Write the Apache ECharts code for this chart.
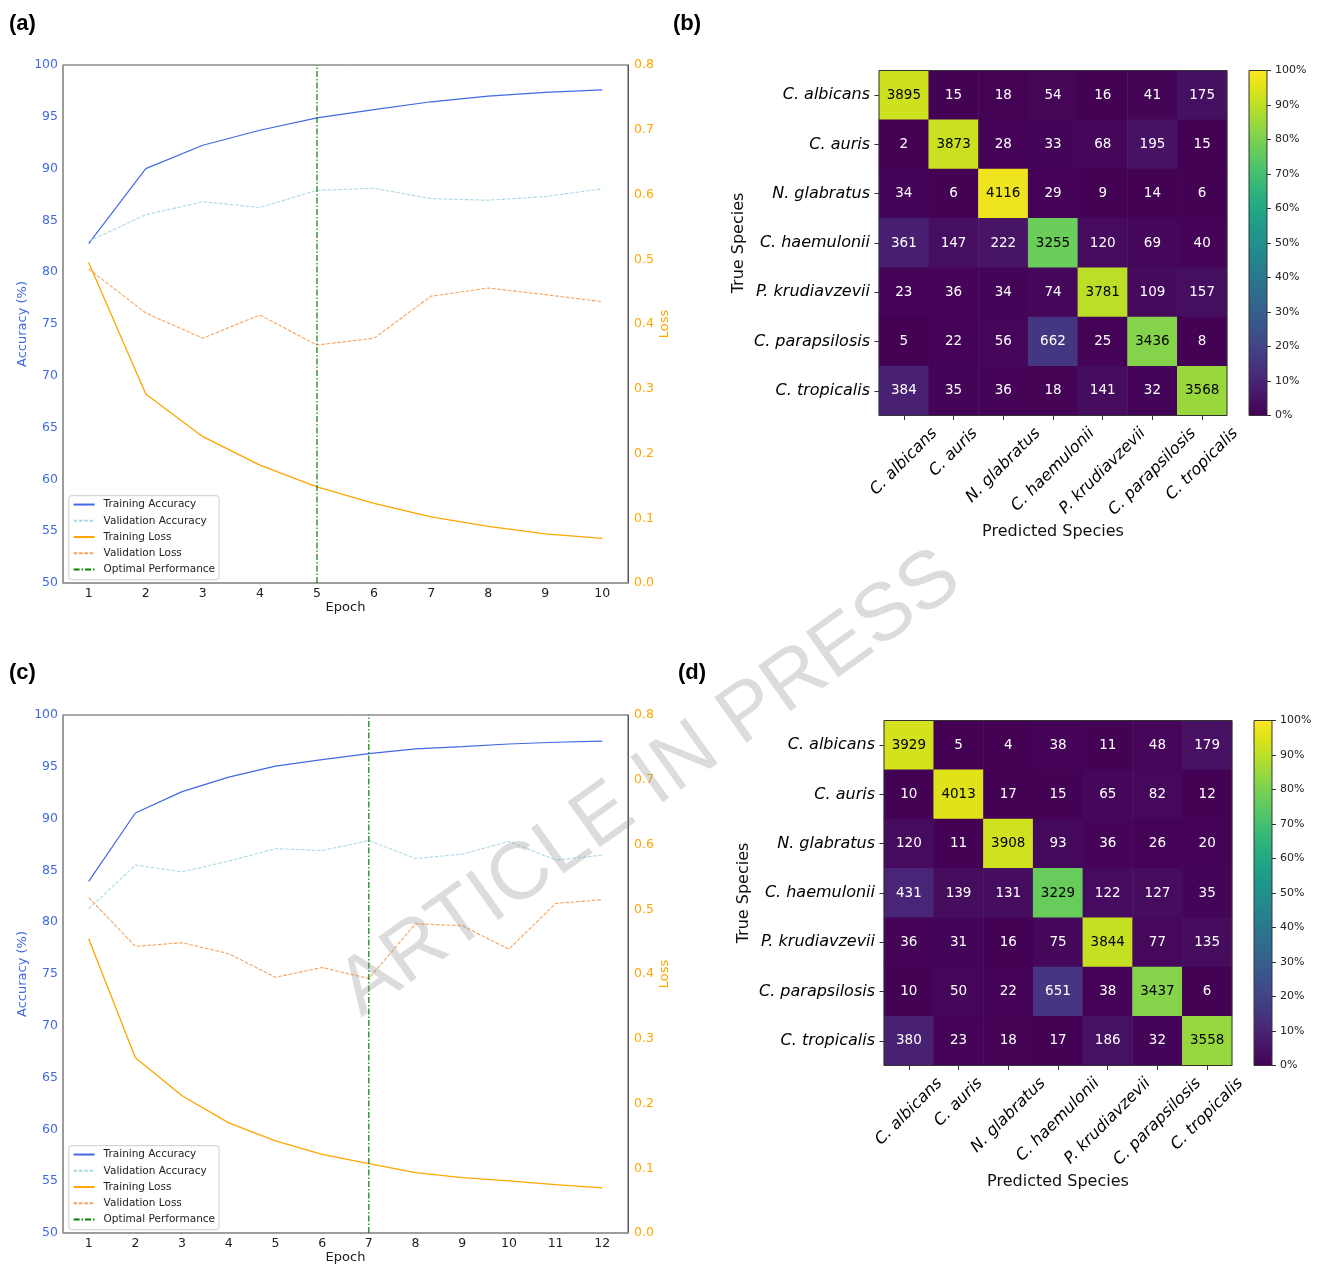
<!DOCTYPE html>
<html><head><meta charset="utf-8">
<script src="https://cdn.jsdelivr.net/npm/echarts@6/dist/echarts.min.js"></script>
<style>html,body{margin:0;padding:0;background:#fff}#c{width:1317px;height:1266px}</style>
</head><body><div id="c"></div>
<script>
// ---------------- data ----------------
const epochsA = [1,2,3,4,5,6,7,8,9,10];
const trainAccA = [82.75, 90.0, 92.25, 93.7, 94.9, 95.7, 96.45, 97.0, 97.35, 97.6];
const valAccA   = [83.0, 85.55, 86.8, 86.25, 87.9, 88.1, 87.1, 86.95, 87.3, 88.05];
const trainLossA = [0.495, 0.292, 0.226, 0.182, 0.1485, 0.123, 0.102, 0.0876, 0.0758, 0.069];
const valLossA   = [0.485, 0.417, 0.378, 0.414, 0.3675, 0.378, 0.443, 0.4556, 0.4453, 0.4345];
const optimalA = 5;

const epochsC = [1,2,3,4,5,6,7,8,9,10,11,12];
const trainAccC = [83.94, 90.54, 92.6, 94.0, 95.06, 95.7, 96.28, 96.73, 96.95, 97.2, 97.37, 97.47];
const valAccC   = [81.28, 85.51, 84.87, 85.9, 87.1, 86.92, 87.88, 86.15, 86.57, 87.8, 86.0, 86.47];
const trainLossC = [0.4545, 0.2706, 0.2119, 0.170, 0.1423, 0.1216, 0.1072, 0.0933, 0.0856, 0.0804, 0.0747, 0.0696];
const valLossC   = [0.518, 0.4427, 0.4483, 0.4314, 0.395, 0.41, 0.393, 0.4776, 0.4746, 0.4383, 0.509, 0.5147];
const optimalC = 7;

const accRange = [50, 100];
const lossRange = [0, 0.8];

const species = ['C. albicans','C. auris','N. glabratus','C. haemulonii','P. krudiavzevii','C. parapsilosis','C. tropicalis'];
const countsB = [
  [3895, 15, 18, 54, 16, 41, 175],
  [2, 3873, 28, 33, 68, 195, 15],
  [34, 6, 4116, 29, 9, 14, 6],
  [361, 147, 222, 3255, 120, 69, 40],
  [23, 36, 34, 74, 3781, 109, 157],
  [5, 22, 56, 662, 25, 3436, 8],
  [384, 35, 36, 18, 141, 32, 3568]
];
const countsD = [
  [3929, 5, 4, 38, 11, 48, 179],
  [10, 4013, 17, 15, 65, 82, 12],
  [120, 11, 3908, 93, 36, 26, 20],
  [431, 139, 131, 3229, 122, 127, 35],
  [36, 31, 16, 75, 3844, 77, 135],
  [10, 50, 22, 651, 38, 3437, 6],
  [380, 23, 18, 17, 186, 32, 3558]
];
const colorbarTicks = [0,10,20,30,40,50,60,70,80,90,100];
const viridis = ['#440154','#471365','#482475','#463480','#414487','#3b528b','#355f8d','#2f6c8e','#2a788e','#25848e','#21918c','#1e9c89','#22a884','#2fb47c','#44bf70','#5ec962','#7ad151','#9bd93c','#bddf26','#dfe318','#fde725'];

// ---------------- helpers ----------------
const FF = 'DejaVu Sans';
const BLUE = '#4169E1', LBLUE = '#ADD8E6', ORANGE = '#FFA500', SANDY = '#F4A460', GREEN = '#008000';
const DASHDOT = [6, 2, 1.5, 2];
const pairs = (xs, ys) => xs.map((x, i) => [x, ys[i]]);

function cmData(counts) {
  const out = [];
  counts.forEach((row, i) => {
    const tot = row.reduce((a, b) => a + b, 0);
    row.forEach((c, j) => {
      const pct = c / tot * 100;
      out.push({ value: [j, i, pct, c], label: { color: pct > 50 ? '#000' : '#fff' } });
    });
  });
  return out;
}

// measure label widths to mimic centered rotated labels
const mctx = document.createElement('canvas').getContext('2d');
mctx.font = 'italic 16px "DejaVu Sans"';
const lw = species.map(s => mctx.measureText(s).width);
const Lmin = Math.min(...lw);
const richX = {};
lw.forEach((w, i) => {
  const p = (w - Lmin) / 2;
  richX['l' + i] = { fontStyle: 'italic', fontSize: 16, fontFamily: FF, color: '#000', padding: [p, p, 0, 0] };
});
const baseMargin = 9 + (Lmin + 18) / (2 * Math.SQRT2);

function lineSeries(name, xs, ys, xi, yi, color, type, width) {
  return { name, type: 'line', xAxisIndex: xi, yAxisIndex: yi, data: pairs(xs, ys), showSymbol: false, symbol: 'none',
    lineStyle: { color, width, type }, itemStyle: { color }, silent: true, z: 3 };
}
function optimalSeries(xi, yi, x) {
  return { name: 'Optimal Performance', type: 'line', xAxisIndex: xi, yAxisIndex: yi,
    data: [[x, accRange[0]], [x, accRange[1]]], symbol: 'none', showSymbol: false, silent: true, z: 4,
    color: GREEN, lineStyle: { color: GREEN, width: 1.2, type: DASHDOT }, itemStyle: { color: GREEN } };
}
function lineGridAxes(gridIndex, min, max, ticks) {
  const x = { type: 'value', gridIndex, min, max, z: 1,
    axisLine: { show: true, lineStyle: { color: '#999', width: 1.5 } },
    axisTick: { show: false }, splitLine: { show: false },
    axisLabel: { customValues: ticks, color: '#222', fontSize: 12.5, fontFamily: FF, margin: 4 },
    name: 'Epoch', nameLocation: 'middle', nameGap: 18.5, nameTextStyle: { color: '#222', fontSize: 13, fontFamily: FF } };
  const yl = { type: 'value', gridIndex, min: accRange[0], max: accRange[1], interval: 5, position: 'left', z: 1,
    axisLine: { show: true, lineStyle: { color: '#999', width: 1.5 } }, axisTick: { show: false }, splitLine: { show: false },
    axisLabel: { color: BLUE, fontSize: 12.5, fontFamily: FF, margin: 5 },
    name: 'Accuracy (%)', nameLocation: 'middle', nameGap: 33.5, nameRotate: 90,
    nameTextStyle: { color: BLUE, fontSize: 13, fontFamily: FF } };
  const yr = { type: 'value', gridIndex, min: lossRange[0], max: lossRange[1], interval: 0.1, position: 'right', z: 1,
    axisLine: { show: true, lineStyle: { color: '#555', width: 1 } }, axisTick: { show: false }, splitLine: { show: false },
    axisLabel: { color: ORANGE, fontSize: 12.5, fontFamily: FF, margin: 6, formatter: v => v.toFixed(1) },
    name: 'Loss', nameLocation: 'middle', nameGap: 27.5, nameRotate: 90,
    nameTextStyle: { color: ORANGE, fontSize: 13, fontFamily: FF } };
  return [x, yl, yr];
}
function legendAt(top) {
  return { orient: 'vertical', left: 68.8, top, padding: [3.35, 4, 4.75, 3.8], itemWidth: 21, itemHeight: 10, itemGap: 5.25,
    backgroundColor: 'rgba(255,255,255,0.8)', borderColor: '#ccc', borderWidth: 1, borderRadius: 3,
    itemStyle: { opacity: 0 },
    selectedMode: false, textStyle: { fontSize: 10.5, fontFamily: FF, color: '#222', padding: [0, 0, 0, 4] },
    data: ['Training Accuracy', 'Validation Accuracy', 'Training Loss', 'Validation Loss', 'Optimal Performance'] };
}
function hmAxes(gridIndex) {
  const x = { type: 'category', gridIndex, data: species, position: 'bottom',
    axisLine: { show: false }, axisTick: { show: true, alignWithLabel: true, length: 4.5, lineStyle: { color: '#333' } },
    splitLine: { show: false },
    axisLabel: { interval: 0, rotate: 45, align: 'center', verticalAlign: 'middle', margin: baseMargin,
      formatter: (v, i) => '{l' + i + '|' + v + '}', rich: richX },
    name: 'Predicted Species', nameLocation: 'middle', nameGap: 108,
    nameTextStyle: { color: '#111', fontSize: 16, fontFamily: FF, verticalAlign: 'top' } };
  const y = { type: 'category', gridIndex, data: species, inverse: true, position: 'left',
    axisLine: { show: false }, axisTick: { show: true, alignWithLabel: true, length: 4.5, lineStyle: { color: '#333' } },
    splitLine: { show: false },
    axisLabel: { interval: 0, margin: 9, fontStyle: 'italic', fontSize: 16, fontFamily: FF, color: '#000' },
    name: 'True Species', nameLocation: 'middle', nameGap: 132, nameRotate: 90,
    nameTextStyle: { color: '#111', fontSize: 16, fontFamily: FF } };
  return [x, y];
}
function cbAxes(gridIndex) {
  const x = { type: 'category', gridIndex, data: ['cb'], show: false };
  const y = { type: 'value', gridIndex, min: 0, max: 100, interval: 10, position: 'right',
    axisLine: { show: false }, axisTick: { show: true, length: 4, lineStyle: { color: '#333' } }, splitLine: { show: false },
    axisLabel: { customValues: colorbarTicks, formatter: v => v + '%', color: '#222', fontSize: 11, fontFamily: FF, margin: 8 } };
  return [x, y];
}
const cbGradient = { type: 'linear', x: 0, y: 1, x2: 0, y2: 0,
  colorStops: viridis.map((c, i) => ({ offset: i / (viridis.length - 1), color: c })) };

// ---------------- axes ----------------
const [xA, ylA, yrA] = lineGridAxes(0, 0.55, 10.45, epochsA);
const [xC, ylC, yrC] = lineGridAxes(1, 0.45, 12.55, epochsC);
const [xB, yB] = hmAxes(2);
const [xD, yD] = hmAxes(3);
const [xcbB, ycbB] = cbAxes(4);
const [xcbD, ycbD] = cbAxes(5);

const option = {
  animation: false,
  backgroundColor: '#fff',
  textStyle: { fontFamily: FF },
  grid: [
    { left: 63, top: 65, width: 565, height: 518, show: true, borderColor: '#555', borderWidth: 1, backgroundColor: 'transparent' },
    { left: 63, top: 715, width: 565, height: 518, show: true, borderColor: '#555', borderWidth: 1, backgroundColor: 'transparent' },
    { left: 879, top: 70.5, width: 348, height: 345, show: true, z: 5, borderColor: '#333', borderWidth: 1, backgroundColor: 'transparent' },
    { left: 884, top: 720.5, width: 348, height: 345, show: true, z: 5, borderColor: '#333', borderWidth: 1, backgroundColor: 'transparent' },
    { left: 1249, top: 70.5, width: 18, height: 345, show: true, z: 5, borderColor: '#333', borderWidth: 1, backgroundColor: 'transparent' },
    { left: 1254, top: 720.5, width: 18, height: 345, show: true, z: 5, borderColor: '#333', borderWidth: 1, backgroundColor: 'transparent' }
  ],
  xAxis: [xA, xC, xB, xD, xcbB, xcbD],
  yAxis: [ylA, yrA, ylC, yrC, yB, yD, ycbB, ycbD],
  legend: [legendAt(495.7), legendAt(1145.7)],
  visualMap: [{ type: 'continuous', show: false, min: 0, max: 100, dimension: 2, seriesIndex: [10, 11], inRange: { color: viridis } }],
  series: [
    lineSeries('Training Accuracy', epochsA, trainAccA, 0, 0, BLUE, 'solid', 1.2),
    lineSeries('Validation Accuracy', epochsA, valAccA, 0, 0, LBLUE, [3.7, 1.6], 1.1),
    lineSeries('Training Loss', epochsA, trainLossA, 0, 1, ORANGE, 'solid', 1.3),
    lineSeries('Validation Loss', epochsA, valLossA, 0, 1, SANDY, [3.7, 1.6], 1.1),
    optimalSeries(0, 0, optimalA),
    lineSeries('Training Accuracy', epochsC, trainAccC, 1, 2, BLUE, 'solid', 1.2),
    lineSeries('Validation Accuracy', epochsC, valAccC, 1, 2, LBLUE, [3.7, 1.6], 1.1),
    lineSeries('Training Loss', epochsC, trainLossC, 1, 3, ORANGE, 'solid', 1.3),
    lineSeries('Validation Loss', epochsC, valLossC, 1, 3, SANDY, [3.7, 1.6], 1.1),
    optimalSeries(1, 2, optimalC),
    { type: 'heatmap', xAxisIndex: 2, yAxisIndex: 4, data: cmData(countsB), silent: true,
      label: { show: true, formatter: p => String(p.value[3]), fontSize: 13.5, fontFamily: FF }, emphasis: { disabled: true } },
    { type: 'heatmap', xAxisIndex: 3, yAxisIndex: 5, data: cmData(countsD), silent: true,
      label: { show: true, formatter: p => String(p.value[3]), fontSize: 13.5, fontFamily: FF }, emphasis: { disabled: true } },
    { type: 'bar', xAxisIndex: 4, yAxisIndex: 6, data: [100], barWidth: '100%', silent: true, itemStyle: { color: cbGradient } },
    { type: 'bar', xAxisIndex: 5, yAxisIndex: 7, data: [100], barWidth: '100%', silent: true, itemStyle: { color: cbGradient } }
  ],
  graphic: [
    { type: 'text', x: 9, y: 23.7, z: 100, silent: true, style: { text: '(a)', font: 'bold 22px "Liberation Sans"', fill: '#000', textVerticalAlign: 'middle' } },
    { type: 'text', x: 673, y: 23.7, z: 100, silent: true, style: { text: '(b)', font: 'bold 22px "Liberation Sans"', fill: '#000', textVerticalAlign: 'middle' } },
    { type: 'text', x: 9, y: 672.5, z: 100, silent: true, style: { text: '(c)', font: 'bold 22px "Liberation Sans"', fill: '#000', textVerticalAlign: 'middle' } },
    { type: 'text', x: 678, y: 672.5, z: 100, silent: true, style: { text: '(d)', font: 'bold 22px "Liberation Sans"', fill: '#000', textVerticalAlign: 'middle' } },
    { type: 'text', x: 650, y: 784, rotation: 35.5 * Math.PI / 180, z: 100, silent: true,
      style: { text: 'ARTICLE IN PRESS', font: '81px "Liberation Sans"', fill: 'rgba(140,140,140,0.3)', textAlign: 'center', textVerticalAlign: 'middle' } }
  ]
};
const chart = echarts.init(document.getElementById('c'), null, { renderer: 'canvas' });
chart.setOption(option);
</script>
</body></html>
